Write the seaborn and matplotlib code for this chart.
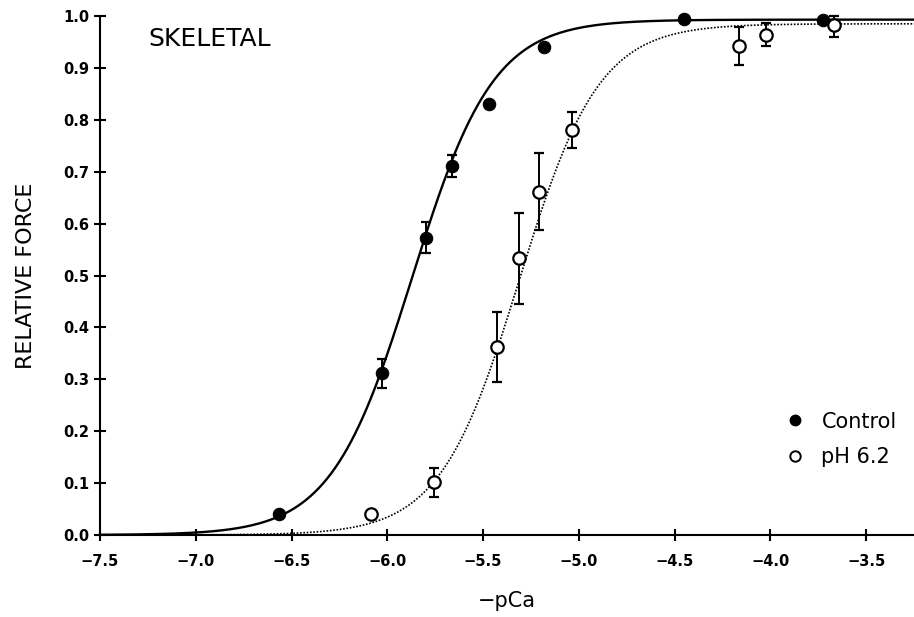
import numpy as np
import pandas as pd
import matplotlib
matplotlib.use("Agg")
import matplotlib.pyplot as plt
import seaborn as sns
from matplotlib.lines import Line2D

# ---- data ----
ctrl_x = [-6.565, -6.03, -5.80, -5.66, -5.47, -5.18, -4.45, -3.725]
ctrl_y = [0.040, 0.312, 0.572, 0.711, 0.830, 0.940, 0.994, 0.992]
ctrl_err_lo = [0.0, 0.029, 0.029, 0.021, 0.0, 0.0, 0.0, 0.0]
ctrl_err_hi = [0.0, 0.027, 0.031, 0.021, 0.0, 0.0, 0.0, 0.0]

ph_x = [-6.085, -5.756, -5.427, -5.312, -5.207, -5.035, -4.163, -4.022, -3.667]
ph_y = [0.040, 0.102, 0.362, 0.534, 0.661, 0.780, 0.942, 0.963, 0.983]
ph_err_lo = [0.0, 0.029, 0.067, 0.089, 0.073, 0.034, 0.036, 0.021, 0.023]
ph_err_hi = [0.0, 0.027, 0.068, 0.086, 0.075, 0.035, 0.037, 0.023, 0.017]

# Hill-fit parameters (max, midpoint, slope)
ctrl_fit = (0.993, -5.87, 2.05)
ph_fit = (0.985, -5.31, 2.09)

x_ticks = [-7.5, -7.0, -6.5, -6.0, -5.5, -5.0, -4.5, -4.0, -3.5]
y_ticks = [0.0, 0.1, 0.2, 0.3, 0.4, 0.5, 0.6, 0.7, 0.8, 0.9, 1.0]


def hill(x, p):
    ymax, x50, n = p
    return ymax / (1.0 + 10.0 ** (n * (x50 - x)))


sns.set_style("ticks")
plt.rcParams["font.family"] = ["DejaVu Sans"]
plt.rcParams["text.color"] = "black"
plt.rcParams["axes.labelcolor"] = "black"
plt.rcParams["xtick.color"] = "black"
plt.rcParams["ytick.color"] = "black"

fig = plt.figure(figsize=(9.14, 6.17), dpi=100)
ax = fig.add_axes([100 / 914, 1 - 535 / 617, 814 / 914, 519 / 617])

xs = np.linspace(-7.5, -3.25, 600)
curves = pd.DataFrame({
    "x": np.concatenate([xs, xs]),
    "y": np.concatenate([hill(xs, ctrl_fit), hill(xs, ph_fit)]),
    "set": ["Control"] * len(xs) + ["pH 6.2"] * len(xs),
})
sns.lineplot(data=curves[curves["set"] == "Control"], x="x", y="y", ax=ax,
             color="black", lw=1.7, legend=False, zorder=2)
sns.lineplot(data=curves[curves["set"] == "pH 6.2"], x="x", y="y", ax=ax,
             color="black", lw=1.2, linestyle=(0, (1, 1)), legend=False, zorder=2)

# error bars
ax.errorbar(ctrl_x, ctrl_y, yerr=[ctrl_err_lo, ctrl_err_hi], fmt="none",
            ecolor="black", elinewidth=1.4, capsize=3.5, capthick=1.6, zorder=3,
            clip_on=False)
ax.errorbar(ph_x, ph_y, yerr=[ph_err_lo, ph_err_hi], fmt="none",
            ecolor="black", elinewidth=1.4, capsize=3.5, capthick=1.6, zorder=3,
            clip_on=False)

pts = pd.DataFrame({
    "x": ctrl_x + ph_x,
    "y": ctrl_y + ph_y,
    "set": ["Control"] * len(ctrl_x) + ["pH 6.2"] * len(ph_x),
})
sns.scatterplot(data=pts[pts["set"] == "Control"], x="x", y="y", ax=ax,
                s=80, color="black", edgecolor="black", linewidth=0.8,
                legend=False, zorder=4)
sns.scatterplot(data=pts[pts["set"] == "pH 6.2"], x="x", y="y", ax=ax,
                s=80, facecolor="white", edgecolor="black", linewidth=1.6,
                legend=False, zorder=4)
for c in ax.collections:
    c.set_clip_on(False)

ax.set_xlim(-7.5, -3.25)
ax.set_ylim(0.0, 1.0)
ax.set_xticks(x_ticks)
ax.set_yticks(y_ticks)
ax.set_xticklabels([f"{v:.1f}".replace("-", "\u2212") for v in x_ticks])
ax.set_yticklabels([f"{v:.1f}" for v in y_ticks])

for s in ["top", "right"]:
    ax.spines[s].set_visible(False)
for s in ["left", "bottom"]:
    ax.spines[s].set_linewidth(1.5)
    ax.spines[s].set_color("black")

ax.tick_params(axis="both", direction="inout", length=9, width=1.5,
               colors="black", labelsize=10.5)
ax.tick_params(axis="x", pad=9)
ax.tick_params(axis="y", pad=3)
for lab in ax.get_xticklabels() + ax.get_yticklabels():
    lab.set_fontweight("bold")

ax.set_xlabel("\u2212pCa", fontsize=15, labelpad=16)
ax.set_ylabel("RELATIVE FORCE", fontsize=16, labelpad=20)

ax.text((148 - 100) / 814, (535 - 39) / 519, "SKELETAL", transform=ax.transAxes,
        fontsize=18, va="center", ha="left", color="black")

handles = [
    Line2D([], [], marker="o", ls="none", markersize=7.5, markerfacecolor="black",
           markeredgecolor="black"),
    Line2D([], [], marker="o", ls="none", markersize=7.5, markerfacecolor="white",
           markeredgecolor="black", markeredgewidth=1.4),
]
ax.legend(handles, ["Control", "pH 6.2"], loc="center left",
          bbox_to_anchor=((785 - 100) / 814, (535 - 439.5) / 519),
          frameon=False, fontsize=15, handlelength=1.0, handletextpad=0.75,
          labelspacing=0.75, borderpad=0, borderaxespad=0, labelcolor="black")

fig.savefig("out.png", dpi=100)
